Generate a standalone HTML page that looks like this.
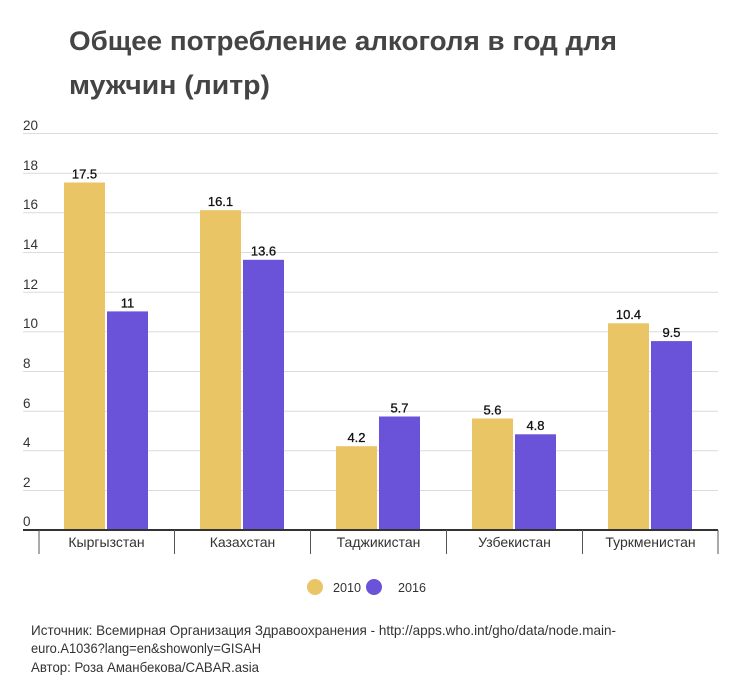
<!DOCTYPE html>
<html><head><meta charset="utf-8"><style>
html,body{margin:0;padding:0;background:#fff;}
svg{display:block;}
text{font-family:"Liberation Sans","DejaVu Sans",sans-serif;}
</style></head><body>
<svg width="730" height="687" viewBox="0 0 730 687" xmlns="http://www.w3.org/2000/svg">
<rect width="730" height="687" fill="#fff"/>
<!-- title -->
<text x="69" y="50" font-size="27" font-weight="bold" fill="#444" textLength="548" lengthAdjust="spacingAndGlyphs">Общее потребление алкоголя в год для</text>
<text x="69" y="94" font-size="27" font-weight="bold" fill="#444" textLength="201" lengthAdjust="spacingAndGlyphs">мужчин (литр)</text>
<!-- grid -->
<g stroke="#dcdcdc" stroke-width="1">
<line x1="23" y1="133.5" x2="718" y2="133.5"/>
<line x1="23" y1="173.2" x2="718" y2="173.2"/>
<line x1="23" y1="212.8" x2="718" y2="212.8"/>
<line x1="23" y1="252.5" x2="718" y2="252.5"/>
<line x1="23" y1="292.2" x2="718" y2="292.2"/>
<line x1="23" y1="331.8" x2="718" y2="331.8"/>
<line x1="23" y1="371.5" x2="718" y2="371.5"/>
<line x1="23" y1="411.2" x2="718" y2="411.2"/>
<line x1="23" y1="450.8" x2="718" y2="450.8"/>
<line x1="23" y1="490.5" x2="718" y2="490.5"/>
</g>
<g font-size="13.5" fill="#333">
<text x="23" y="130">20</text>
<text x="23" y="170">18</text>
<text x="23" y="209">16</text>
<text x="23" y="249">14</text>
<text x="23" y="289">12</text>
<text x="23" y="328">10</text>
<text x="23" y="368">8</text>
<text x="23" y="408">6</text>
<text x="23" y="447">4</text>
<text x="23" y="487">2</text>
<text x="23" y="526">0</text>
</g>
<!-- bars -->
<g fill="#EAC565">
<rect x="64" y="182.5" width="41" height="347"/>
<rect x="200" y="210.2" width="41" height="319.3"/>
<rect x="336" y="446.2" width="41" height="83.3"/>
<rect x="472" y="418.5" width="41" height="111"/>
<rect x="608" y="323.3" width="41" height="206.2"/>
</g>
<g fill="#6A52D9">
<rect x="107" y="311.4" width="41" height="218.1"/>
<rect x="243" y="259.8" width="41" height="269.7"/>
<rect x="379" y="416.5" width="41" height="113"/>
<rect x="515" y="434.3" width="41" height="95.2"/>
<rect x="651" y="341.1" width="41" height="188.4"/>
</g>
<!-- value labels -->
<g font-size="13" fill="#111" text-anchor="middle" stroke="#111" stroke-width="0.3">
<text x="84.5" y="178.5">17.5</text>
<text x="127.5" y="307.5">11</text>
<text x="220.5" y="206">16.1</text>
<text x="263.5" y="255.5">13.6</text>
<text x="356.5" y="442">4.2</text>
<text x="399.5" y="412.5">5.7</text>
<text x="492.5" y="414.5">5.6</text>
<text x="535.5" y="430">4.8</text>
<text x="628.5" y="319">10.4</text>
<text x="671.5" y="337">9.5</text>
</g>
<!-- axis -->
<line x1="23" y1="530" x2="718" y2="530" stroke="#333" stroke-width="2"/>
<g stroke="#555" stroke-width="1">
<line x1="39" y1="530" x2="39" y2="554"/>
<line x1="174.5" y1="530" x2="174.5" y2="554"/>
<line x1="310.5" y1="530" x2="310.5" y2="554"/>
<line x1="446.5" y1="530" x2="446.5" y2="554"/>
<line x1="582.5" y1="530" x2="582.5" y2="554"/>
<line x1="718" y1="530" x2="718" y2="554"/>
</g>
<g font-size="14" fill="#333" text-anchor="middle">
<text x="106.5" y="547">Кыргызстан</text>
<text x="242.5" y="547">Казахстан</text>
<text x="378.5" y="547">Таджикистан</text>
<text x="514.5" y="547">Узбекистан</text>
<text x="650.5" y="547">Туркменистан</text>
</g>
<!-- legend -->
<circle cx="315" cy="587" r="8" fill="#EAC565"/>
<text x="333" y="592" font-size="13" fill="#333" textLength="28" lengthAdjust="spacingAndGlyphs">2010</text>
<circle cx="374" cy="587" r="8" fill="#6A52D9"/>
<text x="398" y="592" font-size="13" fill="#333" textLength="28" lengthAdjust="spacingAndGlyphs">2016</text>
<!-- footer -->
<g font-size="14" fill="#333">
<text x="31" y="635" textLength="585" lengthAdjust="spacingAndGlyphs">Источник: Всемирная Организация Здравоохранения - http://apps.who.int/gho/data/node.main-</text>
<text x="31" y="653" textLength="230" lengthAdjust="spacingAndGlyphs">euro.A1036?lang=en&amp;showonly=GISAH</text>
<text x="31" y="672" textLength="228" lengthAdjust="spacingAndGlyphs">Автор: Роза Аманбекова/CABAR.asia</text>
</g>
</svg>
</body></html>
